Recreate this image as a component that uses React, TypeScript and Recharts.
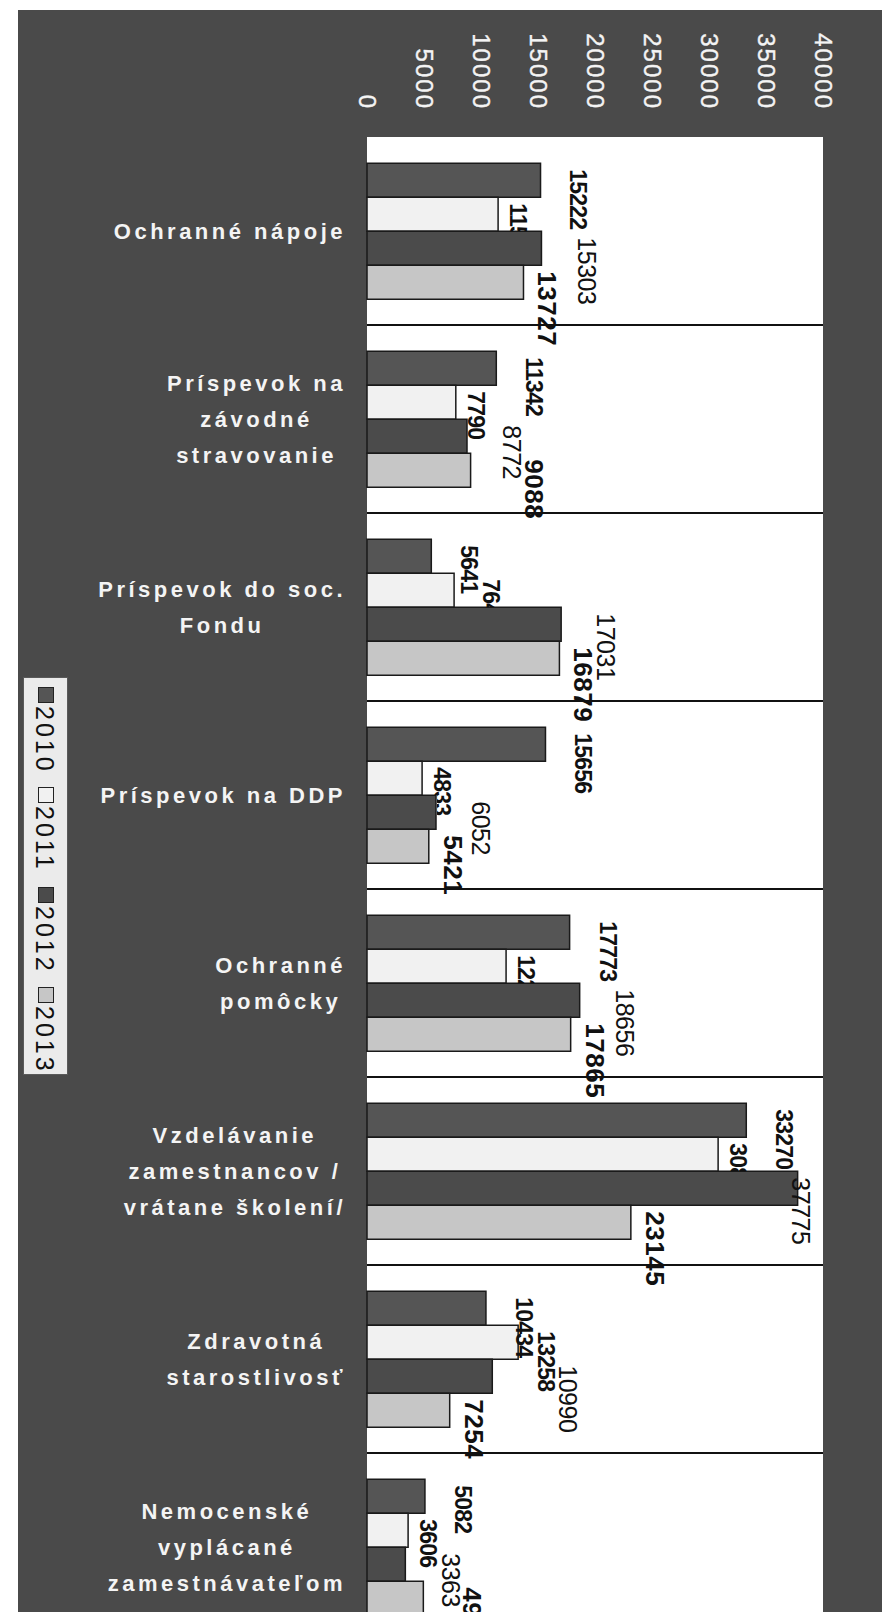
import { Bar, BarChart, CartesianGrid, LabelList, Legend, XAxis, YAxis } from 'recharts';

const CATEGORIES = [
  'Ochranné nápoje',
  'Príspevok na\nzávodné\nstravovanie',
  'Príspevok do soc.\nFondu',
  'Príspevok na DDP',
  'Ochranné\npomôcky',
  'Vzdelávanie\nzamestnancov /\nvrátane školení/',
  'Zdravotná\nstarostlivosť',
  'Nemocenské\nvyplácané\nzamestnávateľom',
];

const YEARS = ['2010', '2011', '2012', '2013'];

const V2010 = [15222, 11342, 5641, 15656, 17773, 33270, 10434, 5082];
const V2011 = [11500, 7790, 7640, 4833, 12200, 30800, 13258, 3606];
const V2012 = [15303, 8772, 17031, 6052, 18656, 37775, 10990, 3363];
const V2013 = [13727, 9088, 16879, 5421, 17865, 23145, 7254, 4942];

const X_MAX = 40000;
const X_TICKS = [0, 5000, 10000, 15000, 20000, 25000, 30000, 35000, 40000];

const data = CATEGORIES.map((name, i) => ({
  name,
  y2010: V2010[i],
  y2011: V2011[i],
  y2012: V2012[i],
  y2013: V2013[i],
}));

const FONT = '"Liberation Sans", Arial, sans-serif';

// how each year looks: bar fill and its value label
// hiddenBy: values of the next bar, which is drawn over this series' labels
const SERIES = [
  { key: 'y2010', name: YEARS[0], values: V2010, fill: '#555555', labelWeight: 700, labelSize: 23, labelSpacing: -0.8, dx: 38, hiddenBy: null as number[] | null },
  { key: 'y2011', name: YEARS[1], values: V2011, fill: '#f1f1f1', labelWeight: 700, labelSize: 23, labelSpacing: -0.8, dx: 20, hiddenBy: V2012 },
  { key: 'y2012', name: YEARS[2], values: V2012, fill: '#4b4b4b', labelWeight: 400, labelSize: 25, labelSpacing: -0.5, dx: 45, hiddenBy: null },
  { key: 'y2013', name: YEARS[3], values: V2013, fill: '#c6c6c6', labelWeight: 700, labelSize: 26, labelSpacing: 0.5, dx: 24, hiddenBy: null },
];

const CAT_FONT_SIZE = 22;
const CAT_SPACING = 3.5;
const CAT_LINE = 36;
const CAT_RIGHT = 346;
const LABEL_GAP = 22;

let measureCtx: CanvasRenderingContext2D | null = null;
function textWidth(s: string) {
  if (!measureCtx) {
    measureCtx = document.createElement('canvas').getContext('2d');
  }
  if (!measureCtx) return s.length * 13;
  measureCtx.font = `bold ${CAT_FONT_SIZE}px "Liberation Sans", Arial, sans-serif`;
  return measureCtx.measureText(s).width + CAT_SPACING * s.length;
}

function CategoryTick(props: any) {
  const { y, payload } = props;
  const lines = String(payload.value).split('\n');
  const maxW = Math.max(...lines.map(textWidth));
  const cx = CAT_RIGHT - maxW / 2;
  const y0 = y - ((lines.length - 1) * CAT_LINE) / 2;
  return (
    <text
      textAnchor="middle"
      fill="#f4f4f4"
      fontFamily={FONT}
      fontWeight={700}
      fontSize={CAT_FONT_SIZE}
      letterSpacing={CAT_SPACING}
    >
      {lines.map((l, i) => (
        <tspan key={i} x={cx} y={y0 + i * CAT_LINE} dy="0.35em">
          {l}
        </tspan>
      ))}
    </text>
  );
}

function ValueTick(props: any) {
  const { x, y, payload } = props;
  return (
    <text
      x={x}
      y={y}
      dy="0.35em"
      transform={`rotate(90 ${x} ${y})`}
      textAnchor="end"
      fill="#f4f4f4"
      fontFamily={FONT}
      fontSize={24}
      letterSpacing={2}
      stroke="#f4f4f4"
      strokeWidth={0.4}
    >
      {payload.value}
    </text>
  );
}

// place the four rotated labels of one category, pushing a label right
// when it would sit on top of one placed before it
function layoutCategory(idx: number, x0: number, perUnit: number, top0: number, h: number) {
  const placed: { x: number; y0: number; y1: number }[] = [];
  const plotRight = x0 + X_MAX * perUnit;
  return SERIES.map((s, k) => {
    const v = s.values[idx];
    const y0 = top0 + k * h + 6;
    const y1 = y0 + String(v).length * s.labelSize * 0.56;
    let x = x0 + v * perUnit + s.dx;
    for (let pass = 0; pass < 3; pass++) {
      for (const p of placed) {
        if (y0 < p.y1 && y1 > p.y0 && Math.abs(x - p.x) < LABEL_GAP) x = p.x + LABEL_GAP;
      }
    }
    x = Math.min(x, plotRight - 22);
    const r = { x, y0, y1 };
    placed.push(r);
    return r;
  });
}

function makeLabel(s: (typeof SERIES)[number], k: number) {
  return (props: any) => {
    const vb = props.viewBox && typeof props.viewBox.x === 'number' ? props.viewBox : props;
    const x0 = Number(vb.x);
    const w = Number(vb.width);
    const top = Number(vb.y);
    const h = Number(vb.height);
    const val = Number(props.value);
    const idx = typeof props.index === 'number' ? props.index : s.values.indexOf(val);
    if (idx < 0 || !val) return null;
    const perUnit = w / val;
    const pos = layoutCategory(idx, x0, perUnit, top - k * h, h)[k];
    const lx = pos.x;
    const ly = pos.y0;
    let clip: string | undefined;
    let clipEl = null;
    if (s.hiddenBy) {
      // the next bar covers the part of the label that falls on it
      const nextEnd = x0 + s.hiddenBy[idx] * perUnit;
      clip = `lblclip-${s.key}-${idx}`;
      clipEl = (
        <clipPath id={clip}>
          <rect x={0} y={0} width={2000} height={top + h} />
          <rect x={nextEnd + 1} y={0} width={2000} height={5000} />
        </clipPath>
      );
    }
    return (
      <g>
        {clipEl}
        <g clipPath={clip ? `url(#${clip})` : undefined}>
          <text
            x={lx}
            y={ly}
            dy="0.35em"
            transform={`rotate(90 ${lx} ${ly})`}
            textAnchor="start"
            fill="#111"
            fontFamily={FONT}
            fontWeight={s.labelWeight}
            fontSize={s.labelSize}
            letterSpacing={s.labelSpacing}
          >
            {props.value}
          </text>
        </g>
      </g>
    );
  };
}

function LegendBox(props: any) {
  const items = props.payload && props.payload.length
    ? props.payload.map((p: any) => ({ label: p.value, color: p.color }))
    : SERIES.map((s) => ({ label: s.name, color: s.fill }));
  return (
    <div
      style={{
        position: 'relative',
        width: 45,
        height: 398,
        background: '#ebebeb',
        border: '1px solid #5a5a5a',
        boxSizing: 'border-box',
      }}
    >
      {items.map((it: any, i: number) => (
        <div key={it.label} style={{ position: 'absolute', left: 0, top: 9 + i * 100, width: 43 }}>
          <div
            style={{
              position: 'absolute',
              left: 14,
              top: 0,
              width: 14,
              height: 14,
              background: it.color,
              border: '1.5px solid #222',
            }}
          />
          <div
            style={{
              position: 'absolute',
              left: 6,
              top: 19,
              writingMode: 'vertical-rl',
              fontFamily: FONT,
              fontSize: 25,
              lineHeight: '30px',
              letterSpacing: 3,
              color: '#111',
            }}
          >
            {it.label}
          </div>
        </div>
      ))}
    </div>
  );
}

export default function App() {
  return (
    <div
      style={{
        position: 'absolute',
        left: 0,
        top: 0,
        width: 882,
        height: 1612,
        overflow: 'hidden',
        background: '#ffffff',
      }}
    >
      <div
        style={{
          position: 'absolute',
          left: 18,
          top: 10,
          right: 0,
          bottom: 0,
          background: '#4a4a4a',
        }}
      />
      <div style={{ position: 'absolute', left: 0, top: 0 }}>
        <BarChart
          width={882}
          height={1646}
          data={data}
          layout="vertical"
          margin={{ top: 0, right: 59, left: 0, bottom: 5 }}
          barCategoryGap="14%"
          barGap={0}
        >
          <CartesianGrid
            vertical={false}
            fill="#ffffff"
            stroke="#111"
            strokeWidth={2}
            horizontalCoordinatesGenerator={({ offset }: any) =>
              CATEGORIES.map((_, i) => offset.top + ((i + 1) * offset.height) / CATEGORIES.length)
            }
          />
          <XAxis
            type="number"
            orientation="top"
            domain={[0, X_MAX]}
            ticks={X_TICKS}
            interval={0}
            height={137}
            axisLine={false}
            tickLine={false}
            tickSize={0}
            tickMargin={27}
            tick={<ValueTick />}
          />
          <YAxis
            type="category"
            dataKey="name"
            width={367}
            axisLine={false}
            tickLine={false}
            interval={0}
            tick={<CategoryTick />}
          />
          <Legend
            layout="horizontal"
            verticalAlign="middle"
            align="center"
            wrapperStyle={{ left: 23, top: 677, width: 45, height: 398 }}
            content={<LegendBox />}
          />
          {SERIES.map((s, k) => (
            <Bar
              key={s.key}
              dataKey={s.key}
              name={s.name}
              fill={s.fill}
              stroke="#1a1a1a"
              strokeWidth={1.5}
              isAnimationActive={false}
            >
              <LabelList dataKey={s.key} content={makeLabel(s, k)} />
            </Bar>
          ))}
        </BarChart>
      </div>
    </div>
  );
}
